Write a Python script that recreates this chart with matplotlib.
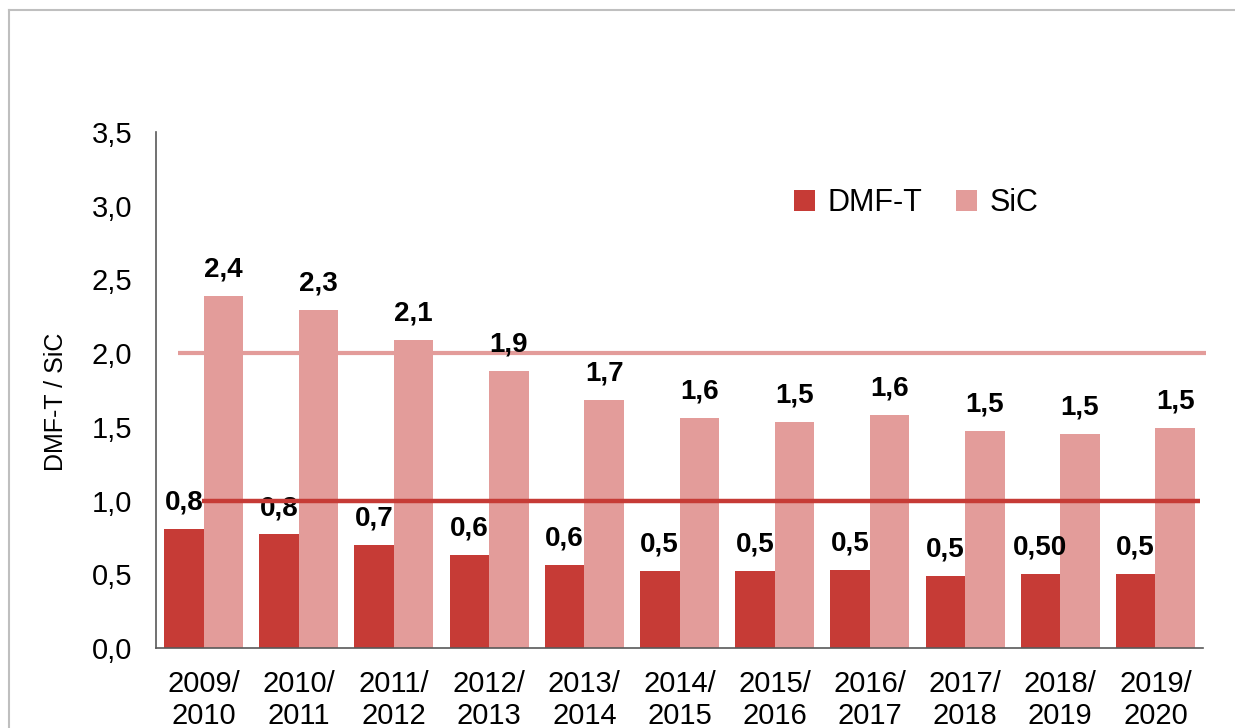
import matplotlib
matplotlib.use("Agg")
import matplotlib.pyplot as plt
import numpy as np
from matplotlib.lines import Line2D

plt.rcParams['font.family'] = ['Liberation Sans', 'DejaVu Sans']

categories = ["2009/\n2010", "2010/\n2011", "2011/\n2012", "2012/\n2013", "2013/\n2014",
              "2014/\n2015", "2015/\n2016", "2016/\n2017", "2017/\n2018", "2018/\n2019",
              "2019/\n2020"]
dmft = [0.81, 0.77, 0.70, 0.63, 0.56, 0.52, 0.52, 0.53, 0.49, 0.50, 0.50]
sic = [2.39, 2.29, 2.09, 1.88, 1.68, 1.56, 1.53, 1.58, 1.47, 1.45, 1.49]
dmft_labels = ["0,8", "0,8", "0,7", "0,6", "0,6", "0,5", "0,5", "0,5", "0,5", "0,50", "0,5"]
sic_labels = ["2,4", "2,3", "2,1", "1,9", "1,7", "1,6", "1,5", "1,6", "1,5", "1,5", "1,5"]
yticks = [0.0, 0.5, 1.0, 1.5, 2.0, 2.5, 3.0, 3.5]
ytick_labels = ["0,0", "0,5", "1,0", "1,5", "2,0", "2,5", "3,0", "3,5"]
target_sic = 2.0
target_dmft = 1.0

c_dmft = "#C63B36"
c_sic = "#E39C9A"

W, H = 1235, 728
fig = plt.figure(figsize=(W / 100, H / 100), dpi=100)
ax = fig.add_axes([156 / W, 1 - 648 / H, (1203 - 156) / W, (648 - 132) / H])

x = np.arange(len(categories))
bw = 0.415
ax.bar(x - bw / 2, dmft, bw, color=c_dmft, label="DMF-T", zorder=2)
ax.bar(x + bw / 2, sic, bw, color=c_sic, label="SiC", zorder=2)

ax.plot([-0.27, 10.53], [target_sic] * 2, color=c_sic, lw=3.0, zorder=2.5,
        solid_capstyle="butt", clip_on=False)

for xi, v, t in zip(x, dmft, dmft_labels):
    ax.annotate(t, (xi - bw / 2, v), xytext=(0, 14), textcoords="offset points",
                ha="center", va="baseline", fontsize=20, fontweight="bold", zorder=3)
for xi, v, t in zip(x, sic, sic_labels):
    ax.annotate(t, (xi + bw / 2, v), xytext=(0, 14), textcoords="offset points",
                ha="center", va="baseline", fontsize=20, fontweight="bold", zorder=3)

ax.plot([-0.02, 10.47], [target_dmft] * 2, color=c_dmft, lw=3.2, zorder=4,
        solid_capstyle="butt", clip_on=False)

ax.set_xlim(-0.5, len(categories) - 0.5)
ax.set_ylim(0, 3.5)
ax.set_yticks(yticks)
ax.set_yticklabels(ytick_labels, fontsize=21)
ax.set_xticks(x)
ax.set_xticklabels(categories, fontsize=21, linespacing=1.15)
ax.tick_params(axis="y", length=0, pad=17)
ax.tick_params(axis="x", length=0, pad=16)
for s in ["top", "right"]:
    ax.spines[s].set_visible(False)
for s in ["left", "bottom"]:
    ax.spines[s].set_color("#595959")
    ax.spines[s].set_linewidth(1.2)

fig.text(56 / W, 1 - 402 / H, "DMF-T / SiC", rotation=90, ha="center", va="center", fontsize=18)

leg = fig.legend(loc="center", bbox_to_anchor=(916 / W, 1 - 203 / H), ncol=2, frameon=False,
                 fontsize=22, handlelength=0.7, handleheight=0.7, handletextpad=0.4,
                 columnspacing=1.1)

# chart border (top and left visible)
fig.add_artist(Line2D([9 / W, 9 / W], [0, 1 - 10 / H], transform=fig.transFigure,
                      color="#BFBFBF", lw=1.5))
fig.add_artist(Line2D([9 / W, 1], [1 - 10 / H, 1 - 10 / H], transform=fig.transFigure,
                      color="#BFBFBF", lw=1.5))

fig.savefig("out.png", dpi=100)
